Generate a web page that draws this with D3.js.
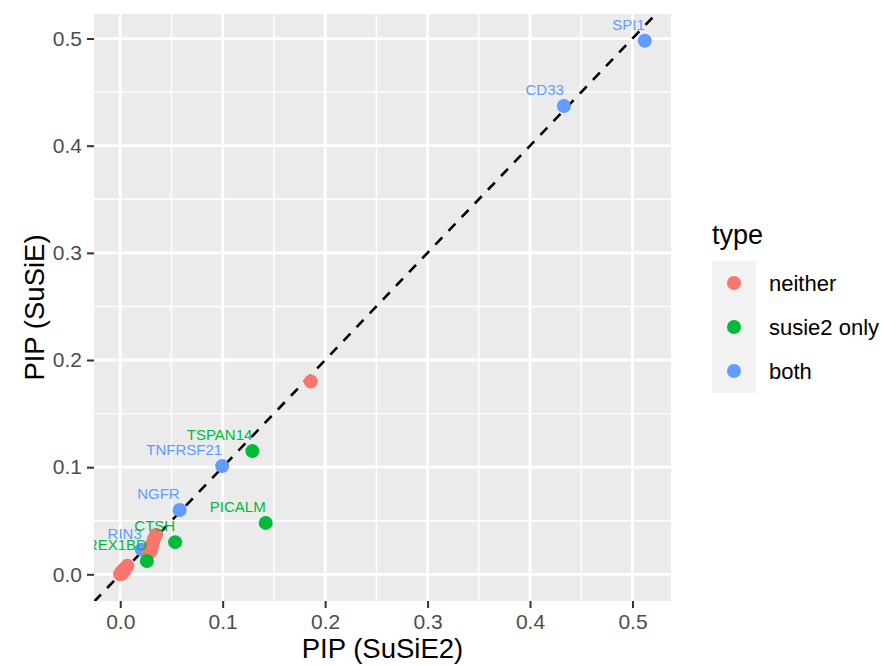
<!DOCTYPE html>
<html>
<head>
<meta charset="UTF-8">
<title>PIP SuSiE vs SuSiE2</title>
<script src="https://cdn.jsdelivr.net/npm/d3@7"></script>
<style>
  body { margin: 0; background: #fff; }
  svg { font-family: "Liberation Sans", Arial, Helvetica, sans-serif; }
</style>
</head>
<body>
<svg id="chart" width="883" height="665"></svg>
<script>
// data (draw order = array order)
var gene   = ["", "", "", "", "", "", "", "RIN3", "", "", "", "", "", "", "REX1BD", "CTSH", "NGFR", "TNFRSF21", "TSPAN14", "PICALM", "", "CD33", "SPI1"];
var susie2 = [0.000, 0.001, 0.002, 0.003, 0.004, 0.005, 0.007, 0.021, 0.028, 0.030, 0.031, 0.032, 0.033, 0.035, 0.026, 0.0536, 0.058, 0.0995, 0.129, 0.142, 0.186, 0.433, 0.512];
var susie  = [0.000, 0.002, 0.001, 0.004, 0.003, 0.006, 0.008, 0.023, 0.020, 0.022, 0.026, 0.030, 0.033, 0.037, 0.0124, 0.030, 0.060, 0.101, 0.115, 0.048, 0.180, 0.437, 0.498];
var type   = ["neither", "neither", "neither", "neither", "neither", "neither", "neither", "both", "neither", "neither", "neither", "neither", "neither", "neither", "susie2 only", "susie2 only", "both", "both", "susie2 only", "susie2 only", "neither", "both", "both"];

var types = ["neither", "susie2 only", "both"];
var typeColors = ["#F8766D", "#00BA38", "#619CFF"];
var ticks = [0, 0.1, 0.2, 0.3, 0.4, 0.5];
var minorTicks = [0.05, 0.15, 0.25, 0.35, 0.45];

var svg = d3.select("#chart");
var panel = {left: 94, right: 671, top: 14, bottom: 601};

// ggplot style 5% expansion
function expand(v) {
  var e = d3.extent(v), d = (e[1] - e[0]) * 0.05;
  return [e[0] - d, e[1] + d];
}
var x = d3.scaleLinear().domain(expand(susie2)).range([panel.left, panel.right]);
var y = d3.scaleLinear().domain(expand(susie)).range([panel.bottom, panel.top]);
var color = d3.scaleOrdinal().domain(types).range(typeColors);

var rows = gene.map(function(g, i) {
  return {gene: g, x: susie2[i], y: susie[i], type: type[i]};
});

// panel background + grid
svg.append("rect")
  .attr("x", panel.left).attr("y", panel.top)
  .attr("width", panel.right - panel.left).attr("height", panel.bottom - panel.top)
  .attr("fill", "#EBEBEB");

svg.append("clipPath").attr("id", "clip")
  .append("rect")
  .attr("x", panel.left).attr("y", panel.top)
  .attr("width", panel.right - panel.left).attr("height", panel.bottom - panel.top);

var grid = svg.append("g");
grid.selectAll(".vminor").data(minorTicks).enter().append("line")
  .attr("x1", x).attr("x2", x).attr("y1", panel.top).attr("y2", panel.bottom)
  .attr("stroke", "#fff").attr("stroke-width", 1.4);
grid.selectAll(".hminor").data(minorTicks).enter().append("line")
  .attr("y1", y).attr("y2", y).attr("x1", panel.left).attr("x2", panel.right)
  .attr("stroke", "#fff").attr("stroke-width", 1.4);
grid.selectAll(".vmajor").data(ticks).enter().append("line")
  .attr("x1", x).attr("x2", x).attr("y1", panel.top).attr("y2", panel.bottom)
  .attr("stroke", "#fff").attr("stroke-width", 2.8);
grid.selectAll(".hmajor").data(ticks).enter().append("line")
  .attr("y1", y).attr("y2", y).attr("x1", panel.left).attr("x2", panel.right)
  .attr("stroke", "#fff").attr("stroke-width", 2.8);

var plot = svg.append("g").attr("clip-path", "url(#clip)");

// y = x reference line
var lo = Math.min(x.domain()[0], y.domain()[0]), hi = Math.max(x.domain()[1], y.domain()[1]);
plot.append("line")
  .attr("x1", x(lo)).attr("y1", y(lo)).attr("x2", x(hi)).attr("y2", y(hi))
  .attr("stroke", "#000").attr("stroke-width", 2.6)
  .attr("stroke-dasharray", "10,9");

plot.selectAll("circle").data(rows).enter().append("circle")
  .attr("cx", function(d) { return x(d.x); })
  .attr("cy", function(d) { return y(d.y); })
  .attr("r", 7)
  .attr("fill", function(d) { return color(d.type); });

plot.selectAll("text").data(rows.filter(function(d) { return d.gene != ""; })).enter().append("text")
  .attr("x", function(d) { return x(d.x); })
  .attr("y", function(d) { return y(d.y) - 11; })
  .attr("text-anchor", "end")
  .attr("font-size", 15)
  .attr("fill", function(d) { return color(d.type); })
  .text(function(d) { return d.gene; });

// axes
var xAxis = svg.append("g").attr("transform", "translate(0," + panel.bottom + ")")
  .call(d3.axisBottom(x).tickValues(ticks).tickFormat(d3.format(".1f")).tickSize(7).tickPadding(6));
var yAxis = svg.append("g").attr("transform", "translate(" + panel.left + ",0)")
  .call(d3.axisLeft(y).tickValues(ticks).tickFormat(d3.format(".1f")).tickSize(7).tickPadding(5));
[xAxis, yAxis].forEach(function(a) {
  a.select(".domain").remove();
  a.selectAll(".tick line").attr("stroke", "#333333").attr("stroke-width", 2);
  a.selectAll(".tick text").attr("fill", "#4D4D4D").attr("font-size", 21)
    .attr("font-family", "Liberation Sans, Arial, sans-serif");
});

svg.append("text")
  .attr("x", (panel.left + panel.right) / 2).attr("y", 658)
  .attr("text-anchor", "middle").attr("font-size", 27.5).attr("fill", "#000")
  .text("PIP (SuSiE2)");
svg.append("text")
  .attr("transform", "translate(44," + (panel.top + panel.bottom) / 2 + ") rotate(-90)")
  .attr("text-anchor", "middle").attr("font-size", 27.5).attr("fill", "#000")
  .text("PIP (SuSiE)");

// legend
var legend = svg.append("g").attr("transform", "translate(712,0)");
legend.append("text").attr("x", 0).attr("y", 244).attr("font-size", 27).text("type");
legend.append("rect").attr("x", 0).attr("y", 261).attr("width", 44).attr("height", 132).attr("fill", "#F2F2F2");
var keys = legend.selectAll(".key").data(types).enter().append("g")
  .attr("transform", function(d, i) { return "translate(0," + (283 + i * 44) + ")"; });
keys.append("circle").attr("cx", 22).attr("cy", 0).attr("r", 7).attr("fill", function(d) { return color(d); });
keys.append("text").attr("x", 57).attr("y", 7.5).attr("font-size", 22).text(function(d) { return d; });
</script>
</body>
</html>
